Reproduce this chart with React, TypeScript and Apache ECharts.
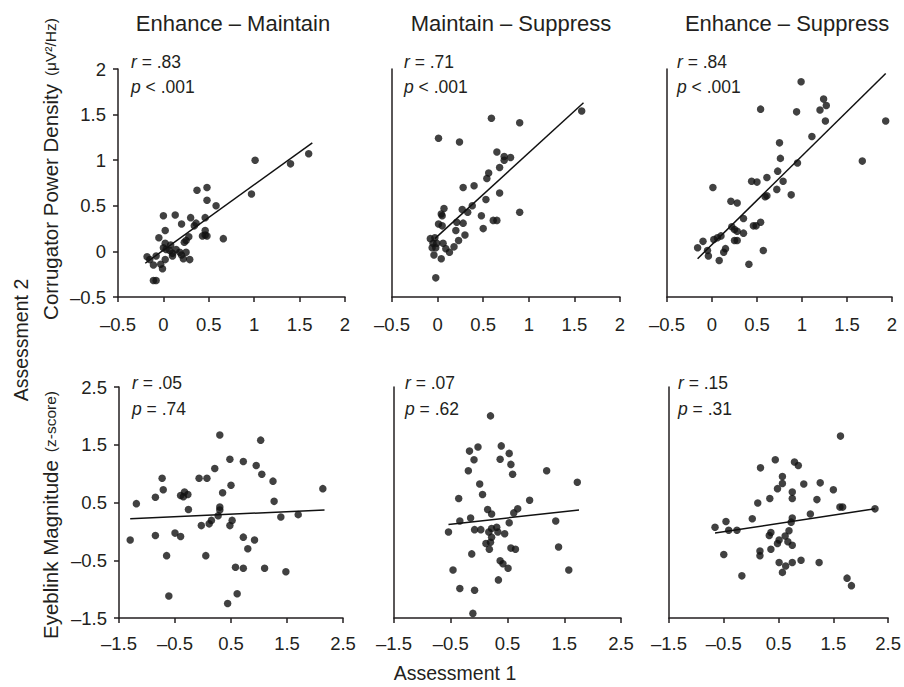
import React, { useEffect, useRef } from "react";
import * as echarts from "echarts";

const panelTitles = ["Enhance – Maintain", "Maintain – Suppress", "Enhance – Suppress"];
const corrR = [".83", ".71", ".84"];
const corrP = ["< .001", "< .001", "< .001"];
const blinkR = [".05", ".07", ".15"];
const blinkP = ["= .74", "= .62", "= .31"];

const corrTicks = [-0.5, 0, 0.5, 1, 1.5, 2];
const blinkTicks = [-1.5, -0.5, 0.5, 1.5, 2.5];

const corrEnhMaint: number[][] = [
  [1.01, 1.0], [1.4, 0.96], [1.6, 1.07], [0.97, 0.63], [0.37, 0.67], [0.48, 0.7], [0.48, 0.56],
  [0.58, 0.5], [0.0, 0.39], [0.13, 0.4], [0.3, 0.37], [0.46, 0.37], [0.2, 0.3], [0.36, 0.31],
  [0.34, 0.28], [0.02, 0.23], [0.46, 0.23], [0.46, 0.18], [0.43, 0.17], [0.48, 0.17], [0.66, 0.14],
  [-0.05, 0.15], [0.28, 0.16], [0.25, 0.12], [0.23, 0.1], [0.02, 0.09], [0.08, 0.07], [0.0, 0.04],
  [0.03, 0.02], [0.07, 0.01], [0.14, 0.02], [0.1, -0.02], [0.18, -0.01], [0.25, -0.01], [0.2, -0.04],
  [0.1, -0.05], [0.29, -0.09], [0.22, -0.08], [0.02, -0.09], [-0.08, -0.05], [-0.18, -0.06],
  [-0.15, -0.09], [-0.11, -0.15], [-0.03, -0.14], [-0.01, -0.19], [-0.11, -0.32], [-0.08, -0.32],
];
const corrMaintSupp: number[][] = [
  [1.58, 1.54], [0.59, 1.46], [0.9, 1.41], [0.01, 1.24], [0.24, 1.2], [0.65, 1.09], [0.73, 1.04],
  [0.8, 1.03], [0.73, 1.0], [0.68, 0.92], [0.56, 0.86], [0.54, 0.8], [0.28, 0.7], [0.4, 0.72],
  [0.68, 0.64], [0.53, 0.57], [0.38, 0.5], [0.07, 0.47], [0.27, 0.46], [0.33, 0.43], [0.04, 0.41],
  [0.05, 0.39], [0.48, 0.39], [0.9, 0.43], [0.61, 0.34], [0.65, 0.34], [0.21, 0.32], [0.28, 0.31],
  [0.01, 0.3], [0.05, 0.28], [0.5, 0.25], [0.2, 0.23], [0.3, 0.18], [0.23, 0.12], [0.18, 0.05],
  [-0.08, 0.14], [-0.03, 0.15], [-0.05, 0.09], [-0.01, 0.09], [-0.06, 0.04], [-0.02, 0.04],
  [0.06, 0.09], [0.09, 0.03], [0.13, -0.01], [-0.04, -0.04], [0.04, -0.08], [-0.02, -0.29],
];
const corrEnhSupp: number[][] = [
  [0.99, 1.86], [1.24, 1.67], [1.27, 1.6], [1.2, 1.55], [0.94, 1.53], [0.54, 1.56], [1.26, 1.43],
  [1.93, 1.43], [1.11, 1.26], [0.75, 1.19], [0.76, 1.02], [0.95, 0.97], [1.67, 0.99], [0.73, 0.88],
  [0.61, 0.81], [0.79, 0.77], [0.44, 0.77], [0.5, 0.76], [0.01, 0.7], [0.72, 0.68], [0.88, 0.62],
  [0.59, 0.6], [0.61, 0.61], [0.21, 0.55], [0.28, 0.53], [0.35, 0.36], [0.54, 0.32], [0.46, 0.28],
  [0.49, 0.28], [0.22, 0.27], [0.25, 0.24], [0.28, 0.22], [0.35, 0.2], [0.1, 0.17], [0.06, 0.15],
  [0.02, 0.13], [0.25, 0.12], [0.28, 0.12], [-0.1, 0.11], [-0.16, 0.04], [-0.05, 0.01],
  [-0.04, -0.05], [0.15, 0.03], [0.13, -0.01], [0.57, 0.01], [0.08, -0.1], [0.41, -0.14],
];
const blinkEnhMaint: number[][] = [
  [0.3, 1.67], [1.03, 1.58], [0.48, 1.25], [0.72, 1.21], [0.95, 1.14], [0.21, 1.09], [1.05, 0.99],
  [-0.73, 0.92], [-0.07, 0.92], [0.07, 0.92], [1.25, 0.87], [0.5, 0.8], [-0.71, 0.72], [0.35, 0.67],
  [-0.33, 0.68], [-0.27, 0.64], [-0.85, 0.59], [-0.4, 0.62], [-0.35, 0.6], [-1.19, 0.48], [1.27, 0.52],
  [-0.26, 0.38], [0.3, 0.42], [0.3, 0.37], [0.27, 0.27], [1.7, 0.29], [1.39, 0.25], [0.15, 0.19],
  [0.11, 0.13], [0.52, 0.19], [0.48, 0.1], [-0.03, 0.1], [-0.5, -0.03], [-0.4, -0.09], [-0.85, -0.07],
  [-1.3, -0.15], [0.72, -0.1], [0.92, -0.15], [0.8, -0.3], [0.05, -0.42], [-0.65, -0.42],
  [0.58, -0.62], [0.72, -0.64], [1.1, -0.64], [1.48, -0.7], [0.61, -1.08], [-0.61, -1.12],
  [0.44, -1.25], [2.14, 0.74],
];
const blinkMaintSupp: number[][] = [
  [0.2, 2.0], [-0.02, 1.46], [0.39, 1.48], [-0.17, 1.39], [0.53, 1.35], [0.37, 1.25], [-0.09, 1.24],
  [0.56, 1.16], [-0.19, 1.05], [1.19, 1.05], [0.59, 0.99], [1.73, 0.85], [0.01, 0.82], [0.06, 0.64],
  [-0.36, 0.57], [0.89, 0.54], [0.15, 0.38], [0.68, 0.39], [0.22, 0.3], [0.61, 0.32], [-0.15, 0.23],
  [-0.34, 0.18], [0.53, 0.15], [1.35, 0.18], [-0.54, -0.01], [-0.08, 0.03], [0.03, 0.03], [0.22, 0.05],
  [0.31, 0.07], [0.17, -0.01], [0.33, -0.01], [0.45, -0.04], [0.22, -0.1], [0.12, -0.21],
  [0.2, -0.19], [0.18, -0.31], [0.56, -0.29], [0.64, -0.31], [1.4, -0.27], [-0.13, -0.39],
  [0.37, -0.51], [0.42, -0.56], [0.51, -0.64], [-0.46, -0.67], [1.58, -0.67], [0.34, -0.84],
  [-0.34, -0.99], [-0.08, -1.02], [-0.11, -1.42],
];
const blinkEnhSupp: number[][] = [
  [1.63, 1.65], [0.44, 1.24], [0.79, 1.2], [0.86, 1.14], [0.17, 1.1], [0.57, 0.95], [0.57, 0.83],
  [0.96, 0.82], [1.26, 0.84], [0.48, 0.74], [1.5, 0.72], [0.75, 0.68], [0.34, 0.57], [0.75, 0.57],
  [1.2, 0.55], [0.12, 0.49], [1.62, 0.42], [1.67, 0.42], [2.26, 0.39], [1.08, 0.3], [0.02, 0.22],
  [0.75, 0.23], [0.73, 0.16], [-0.66, 0.07], [-0.46, 0.17], [-0.41, 0.02], [-0.26, 0.02], [0.69, 0.01],
  [0.36, -0.02], [0.33, -0.07], [0.62, -0.08], [0.51, -0.15], [0.48, -0.21], [0.67, -0.18],
  [0.75, -0.24], [0.36, -0.31], [0.16, -0.34], [0.16, -0.42], [-0.5, -0.4], [0.51, -0.54],
  [0.63, -0.6], [0.75, -0.54], [0.91, -0.5], [1.24, -0.54], [0.57, -0.71], [-0.17, -0.77],
  [1.75, -0.81], [1.83, -0.94],
];

const corrFits: number[][][] = [
  [[-0.2, -0.13], [1.64, 1.19]],
  [[-0.03, 0.14], [1.6, 1.63]],
  [[-0.16, -0.08], [1.93, 1.95]],
];
const blinkFits: number[][][] = [
  [[-1.3, 0.22], [2.17, 0.37]],
  [[-0.54, 0.12], [1.76, 0.37]],
  [[-0.66, -0.03], [2.26, 0.39]],
];

const FONT = "'Liberation Sans', Arial, Helvetica, sans-serif";
const INK = "#231f20";

const fmt = (v: number) => (v < 0 ? "–" + String(-v) : String(v));

export default function App() {
  const ref = useRef<HTMLDivElement>(null);
  useEffect(() => {
    if (!ref.current) return;
    const chart = echarts.init(ref.current, undefined, { renderer: "svg" });
    const grids = [
      { left: 118, top: 69, width: 227, height: 228 },
      { left: 392, top: 69, width: 228, height: 228 },
      { left: 667, top: 69, width: 225, height: 228 },
      { left: 119, top: 387, width: 224, height: 231 },
      { left: 394, top: 387, width: 227, height: 231 },
      { left: 669, top: 387, width: 225, height: 231 },
    ];
    const xAxes: any[] = [];
    const yAxes: any[] = [];
    const series: any[] = [];
    const scatterSets = [corrEnhMaint, corrMaintSupp, corrEnhSupp, blinkEnhMaint, blinkMaintSupp, blinkEnhSupp];
    const fits = [...corrFits, ...blinkFits];
    grids.forEach((g, i) => {
      const ticks = i < 3 ? corrTicks : blinkTicks;
      const interval = ticks[1] - ticks[0];
      const firstCol = i % 3 === 0;
      const axisLine = { show: true, onZero: false, lineStyle: { color: INK, width: 1.5 } };
      const labelStyle = { color: INK, fontSize: 18.5, fontFamily: FONT, formatter: fmt };
      xAxes.push({
        type: "value",
        gridIndex: i,
        min: ticks[0],
        max: ticks[ticks.length - 1],
        interval,
        axisLine,
        axisTick: { show: true, inside: false, length: 5, lineStyle: { color: INK, width: 1.5 } },
        axisLabel: { ...labelStyle, margin: i < 3 ? 18 : 16 },
        splitLine: { show: false },
      });
      yAxes.push({
        type: "value",
        gridIndex: i,
        min: ticks[0],
        max: ticks[ticks.length - 1],
        interval,
        axisLine,
        axisTick: { show: firstCol, inside: false, length: 5, lineStyle: { color: INK, width: 1.5 } },
        axisLabel: { ...labelStyle, show: firstCol, margin: 12 },
        splitLine: { show: false },
      });
      series.push({
        type: "scatter",
        xAxisIndex: i,
        yAxisIndex: i,
        data: scatterSets[i],
        symbol: "circle",
        symbolSize: 7.5,
        itemStyle: { color: "#111" },
        silent: true,
      });
      series.push({
        type: "line",
        xAxisIndex: i,
        yAxisIndex: i,
        data: fits[i],
        showSymbol: false,
        symbol: "none",
        lineStyle: { color: "#111", width: 1.5 },
        silent: true,
      });
    });

    const graphics: any[] = [];
    const titleX = [233, 511, 787];
    panelTitles.forEach((t, i) => {
      graphics.push({
        type: "text",
        x: titleX[i],
        y: 23,
        style: { text: t, fill: INK, fontSize: 22, fontFamily: FONT, align: "center", verticalAlign: "middle" },
      });
    });
    const statX = [131, 404, 677];
    const statStyle = (text: string) => ({
      text,
      fill: INK,
      fontSize: 17.5,
      fontFamily: FONT,
      align: "left",
      verticalAlign: "middle",
      rich: {
        i: { fontStyle: "italic", fontSize: 17.5, fontFamily: FONT, fill: INK },
        n: { fontSize: 17.5, fontFamily: FONT, fill: INK },
      },
    });
    for (let i = 0; i < 3; i++) {
      graphics.push({ type: "text", x: statX[i], y: 62, style: statStyle(`{i|r}{n| = ${corrR[i]}}`) });
      graphics.push({ type: "text", x: statX[i], y: 87, style: statStyle(`{i|p}{n| ${corrP[i]}}`) });
      graphics.push({ type: "text", x: statX[i] + 1, y: 383, style: statStyle(`{i|r}{n| = ${blinkR[i]}}`) });
      graphics.push({ type: "text", x: statX[i] + 1, y: 409, style: statStyle(`{i|p}{n| ${blinkP[i]}}`) });
    }
    const axisNameRich = {
      m: { fontSize: 20.5, fontFamily: FONT, fill: INK },
      g: { fontSize: 20.5, fontFamily: FONT, fill: INK, width: 8 },
      s: { fontSize: 15.5, fontFamily: FONT, fill: INK },
    };
    graphics.push({
      type: "text",
      x: 21,
      y: 340,
      rotation: Math.PI / 2,
      style: { text: "Assessment 2", fill: INK, fontSize: 19.5, fontFamily: FONT, align: "center", verticalAlign: "middle" },
    });
    graphics.push({
      type: "text",
      x: 50,
      y: 169,
      rotation: Math.PI / 2,
      style: {
        text: "{m|Corrugator Power Density}{g| }{s|(μV²/Hz)}",
        rich: axisNameRich,
        align: "center",
        verticalAlign: "middle",
      },
    });
    graphics.push({
      type: "text",
      x: 50,
      y: 515,
      rotation: Math.PI / 2,
      style: {
        text: "{m|Eyeblink Magnitude}{g| }{s|(z-score)}",
        rich: axisNameRich,
        align: "center",
        verticalAlign: "middle",
      },
    });
    graphics.push({
      type: "text",
      x: 455,
      y: 673,
      style: { text: "Assessment 1", fill: INK, fontSize: 19.5, fontFamily: FONT, align: "center", verticalAlign: "middle" },
    });

    chart.setOption({
      animation: false,
      backgroundColor: "#ffffff",
      grid: grids,
      xAxis: xAxes,
      yAxis: yAxes,
      series,
      graphic: graphics,
    });
    return () => chart.dispose();
  }, []);
  return <div ref={ref} style={{ position: "fixed", left: 0, top: 0, width: 904, height: 687 }} />;
}
